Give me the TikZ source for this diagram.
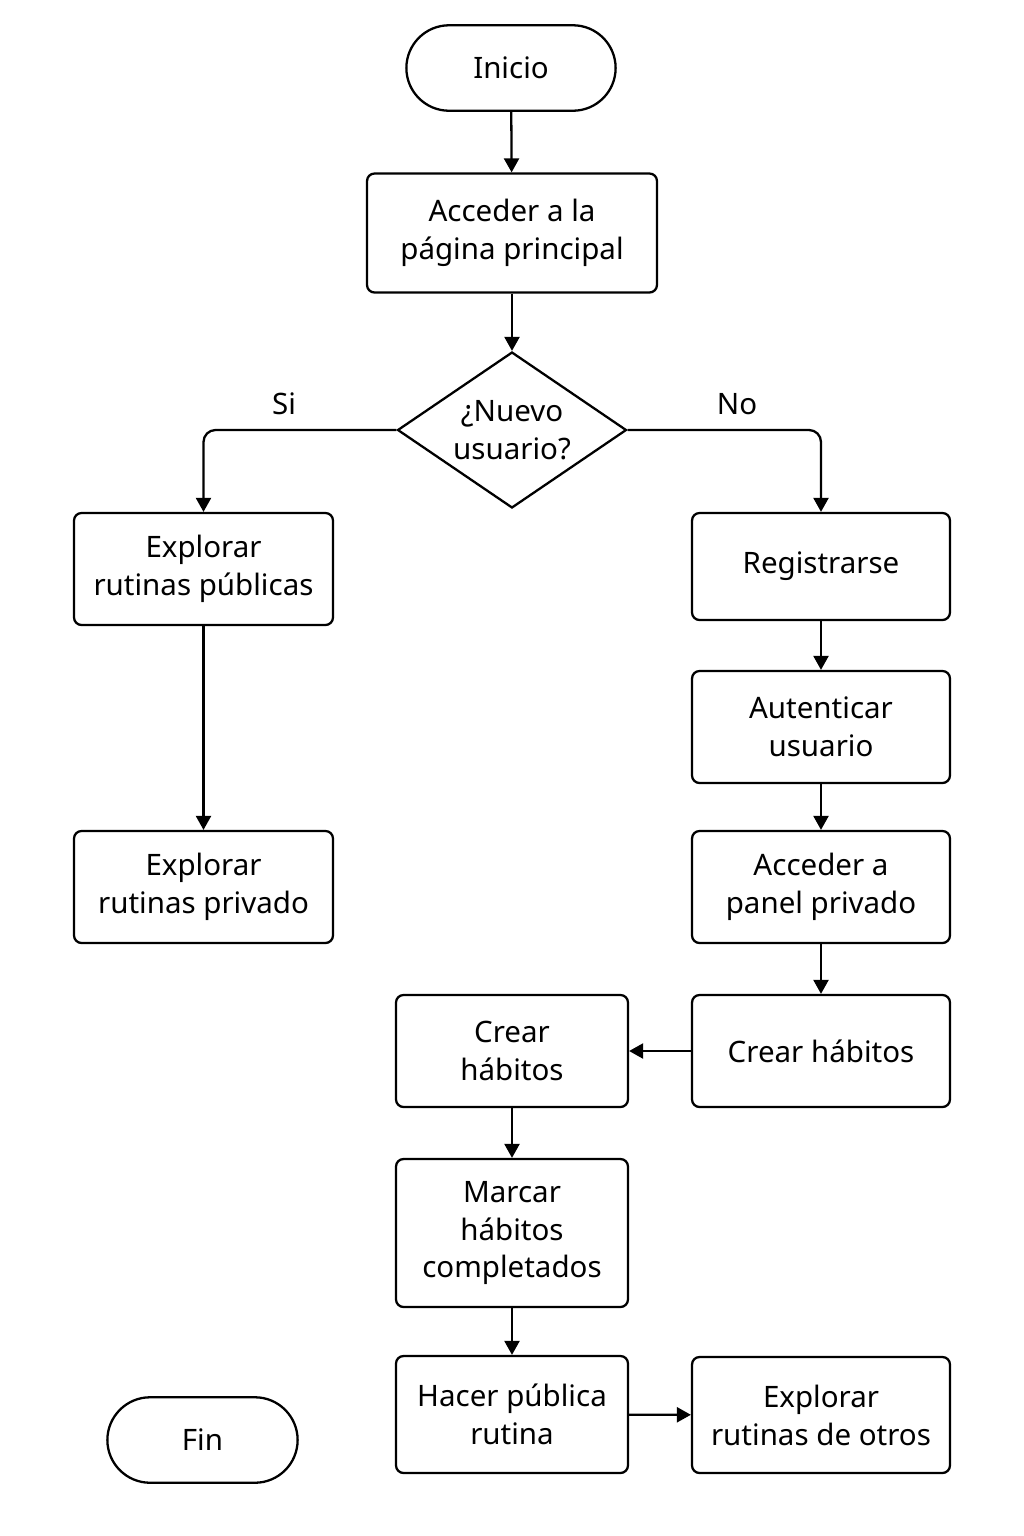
\documentclass[tikz,border=0pt]{standalone}
\usepackage{fontspec}
\setmainfont{Noto Sans}
\usetikzlibrary{arrows.meta}
\usetikzlibrary{shapes.geometric, shapes.misc}

\begin{document}
\begin{tikzpicture}[x=0.02cm, y=-0.02cm,
    every node/.style={font=\fontsize{16.8}{21.6}\selectfont, align=center, line width=1.3pt},
    paso/.style={draw, rectangle, rounded corners=0.15cm, inner sep=2pt},
    terminal/.style={draw, rounded rectangle, minimum height=1.71cm},
    decision/.style={draw, diamond, inner sep=-8pt, minimum width=4.58cm, minimum height=3.12cm},
    flecha/.style={-{Triangle[length=0.28cm, width=0.3cm]}, line width=1.3pt, rounded corners=0.24cm}]
      \useasboundingbox (0,0) rectangle (1024,1536);

      \node[terminal, minimum width=4.42cm] (inicio) at (511,68) {Inicio};
      \node[paso, minimum width=5.8cm, minimum height=2.38cm] (acceder) at (512,233) {Acceder a la\\página principal};
      \node[decision] (nuevo) at (512,430) {¿Nuevo\\usuario?};

      \node[paso, minimum width=5.18cm, minimum height=2.24cm] (publicas) at (203.5,569) {Explorar\\rutinas públicas};
      \node[paso, minimum width=5.18cm, minimum height=2.24cm] (privado) at (203.5,887) {Explorar\\rutinas privado};

      \node[paso, minimum width=5.16cm, minimum height=2.14cm] (registro) at (821,566.5) {Registrarse};
      \node[paso, minimum width=5.16cm, minimum height=2.24cm] (autenticar) at (821,727) {Autenticar\\usuario};
      \node[paso, minimum width=5.16cm, minimum height=2.24cm] (panel) at (821,887) {Acceder a\\panel privado};
      \node[paso, minimum width=5.16cm, minimum height=2.24cm] (crearD) at (821,1051) {Crear hábitos};

      \node[paso, minimum width=4.64cm, minimum height=2.24cm] (crearI) at (512,1051) {Crear\\hábitos};
      \node[paso, minimum width=4.64cm, minimum height=2.96cm] (marcar) at (512,1233) {Marcar\\hábitos\\completados};
      \node[paso, minimum width=4.64cm, minimum height=2.34cm] (hacer) at (512,1414.5) {Hacer pública\\rutina};
      \node[paso, minimum width=5.16cm, minimum height=2.32cm] (otros) at (821,1415) {Explorar\\rutinas de otros};

      \node[terminal, minimum width=4.04cm] (fin) at (202.5,1440) {Fin};

      \node (si) at (284,404) {Si};
      \node (no) at (737,404) {No};

      \draw[flecha] (inicio) -- (acceder);
      \draw[flecha] (acceder) -- (nuevo);
      \draw[flecha] (nuevo.west) -| (publicas.north);
      \draw[flecha] (nuevo.east) -| (registro.north);
      \draw[flecha] (publicas) -- (privado);
      \draw[flecha] (registro) -- (autenticar);
      \draw[flecha] (autenticar) -- (panel);
      \draw[flecha] (panel) -- (crearD);
      \draw[flecha] (crearD) -- (crearI);
      \draw[flecha] (crearI) -- (marcar);
      \draw[flecha] (marcar) -- (hacer);
      \draw[flecha] (hacer) -- (otros);
    \end{tikzpicture}
\end{document}
